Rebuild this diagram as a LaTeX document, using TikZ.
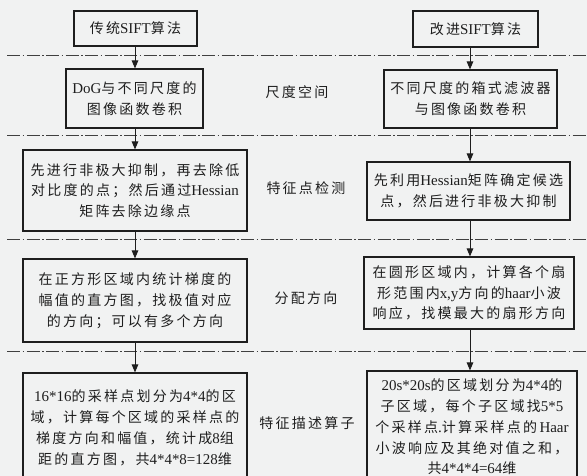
\documentclass[tikz,border=0pt]{standalone}
\usepackage{fontspec}
\setmainfont{Noto Sans CJK SC}[LetterSpace=16]
\newfontfamily\latinfont{Liberation Serif}[Scale=1.07]
\newcommand\lt[1]{{\latinfont #1}}
\usetikzlibrary{arrows.meta}
\definecolor{bgc}{RGB}{241,242,242}
\definecolor{ink}{RGB}{30,30,30}
\tikzset{
  box/.style={draw=ink, line width=1.1pt, align=center, inner sep=0pt, text=ink,
    font=\fontsize{14}{20.8}\selectfont},
  lbl/.style={text=ink, font=\fontsize{14}{16}\selectfont, inner sep=0pt},
  sep/.style={draw=ink!85, line width=1pt, dash pattern=on 13pt off 2.5pt on 1.5pt off 2.5pt},
  arr/.style={draw=ink, line width=1pt, -{Triangle[length=8pt,width=6.5pt]}}
}
\begin{document}
\begin{tikzpicture}[x=1pt,y=-1pt]
\useasboundingbox (0,0) rectangle (587,476);
\fill[bgc] (0,0) rectangle (587,476);
% column axes
\coordinate (colL) at (135,0);
\coordinate (colR) at (470,0);
% separators
\foreach \yy in {56,136,240,351} \draw[sep] (7,\yy) -- (587,\yy);
% left column
\node[box, minimum width=123pt, minimum height=35pt] (L1) at (135.5,28.5) {传统\lt{SIFT}算法};
\node[box, minimum width=137pt, minimum height=59pt] (L2) at (134.5,98.5) {\lt{DoG}与不同尺度的\\图像函数卷积};
\node[box, minimum width=224pt, minimum height=81pt] (L3) at (135,190.5) {先进行非极大抑制，再去除低\\对比度的点；然后通过\lt{Hessian}\\矩阵去除边缘点};
\node[box, minimum width=224pt, minimum height=83pt] (L4) at (135,300.5) {在正方形区域内统计梯度的\\幅值的直方图，找极值对应\\的方向；可以有多个方向};
\node[box, minimum width=224pt, minimum height=110pt] (L5) at (135,428) {\lt{16*16}的采样点划分为\lt{4*4}的区\\域，计算每个区域的采样点的\\梯度方向和幅值，统计成\lt{8}组\\距的直方图，共\lt{4*4*8=128}维};
% right column
\node[box, minimum width=125pt, minimum height=36pt] (R1) at (475.5,29) {改进\lt{SIFT}算法};
\node[box, minimum width=173pt, minimum height=58pt] (R2) at (470.5,99) {不同尺度的箱式滤波器\\与图像函数卷积};
\node[box, minimum width=203pt, minimum height=58pt] (R3) at (468.5,191) {先利用\lt{Hessian}矩阵确定候选\\点，然后进行非极大抑制};
\node[box, minimum width=210pt, minimum height=72pt] (R4) at (469,293) {在圆形区域内，计算各个扇\\形范围内\lt{x,y}方向的\lt{haar}小波\\响应，找模最大的扇形方向};
\node[box, minimum width=210pt, minimum height=112pt] (R5) at (472,427) {\lt{20s*20s}的区域划分为\lt{4*4}的\\子区域，每个子区域找\lt{5*5}\\个采样点\lt{.}计算采样点的\lt{\,Haar}\\小波响应及其绝对值之和，\\共\lt{4*4*4=64}维};
% middle labels
\node[lbl] (m1) at (297,92) {尺度空间};
\node[lbl] (m2) at (306,188) {特征点检测};
\node[lbl] (m3) at (306,298) {分配方向};
\node[lbl] (m4) at (307,423) {特征描述算子};
% arrows
\draw[arr] (L1.south -| colL) -- (L2.north -| colL);
\draw[arr] (L2.south -| colL) -- (L3.north -| colL);
\draw[arr] (L3.south -| colL) -- (L4.north -| colL);
\draw[arr] (L4.south -| colL) -- (L5.north -| colL);
\draw[arr] (R1.south -| colR) -- (R2.north -| colR);
\draw[arr] (R2.south -| colR) -- (R3.north -| colR);
\draw[arr] (R3.south -| colR) -- (R4.north -| colR);
\draw[arr] (R4.south -| colR) -- (R5.north -| colR);
\end{tikzpicture}
\end{document}
